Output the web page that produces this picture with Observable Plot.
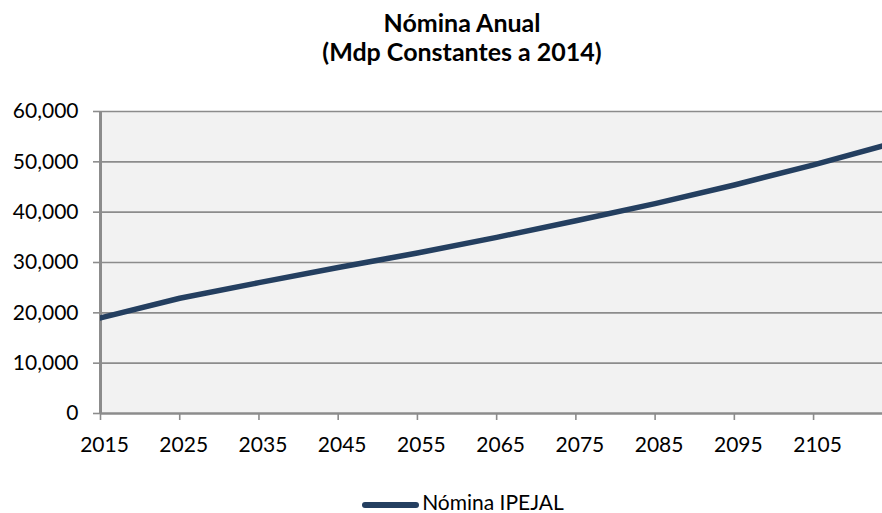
<!DOCTYPE html>
<html>
<head>
<meta charset="utf-8">
<script src="https://cdn.jsdelivr.net/npm/d3@7"></script>
<script src="https://cdn.jsdelivr.net/npm/@observablehq/plot@0.6"></script>
<style>
  body { margin: 0; background: #fff; font-family: Lato, "Open Sans", sans-serif; }
  #wrap { width: 882px; height: 513px; position: relative; overflow: hidden; }
  #title { height: 90px; text-align: center; font-weight: bold; font-size: 25px; line-height: 29px; padding-top: 8px; box-sizing: border-box; color: #000; padding-left: 42px; }
  #legend { position: absolute; left: 0; top: 490px; width: 882px; text-align: center; font-size: 21px; line-height: 24px; color: #000; padding-left: 44px; box-sizing: border-box; }
  #legend span.sw { display: inline-block; width: 57px; height: 6px; border-radius: 3px; background: #243f60; vertical-align: middle; margin-right: 3px; }
</style>
</head>
<body>
<div id="wrap">
  <div id="title">Nómina Anual<br>(Mdp Constantes a 2014)</div>
  <div id="chart"></div>
  <div id="legend"><span class="sw"></span>Nómina IPEJAL</div>
</div>
<script>
// valores (cada 10 años)
const years = [2015, 2025, 2035, 2045, 2055, 2065, 2075, 2085, 2095, 2105, 2115]
const nomina = [19000, 22900, 26000, 29000, 31900, 35000, 38300, 41700, 45400, 49400, 53700]
const xTicks = [2015, 2025, 2035, 2045, 2055, 2065, 2075, 2085, 2095, 2105]
const yTicks = [0, 10000, 20000, 30000, 40000, 50000, 60000]

const data = years.map((y, i) => ({ anio: y, valor: nomina[i] }))

let chart = Plot.plot({
  width: 882,
  height: 370,
  marginTop: 21,
  marginBottom: 47,
  marginLeft: 100,
  marginRight: 0,
  style: { fontFamily: "Lato, 'Open Sans', sans-serif", fontSize: "21px", color: "#000", background: "transparent", overflow: "visible" },
  x: { domain: [2015, 2113.7], label: null },
  y: { domain: [0, 60000], label: null },
  marks: [
    Plot.frame({ fill: "#f2f2f2", stroke: null }),
    Plot.ruleY(yTicks.slice(1), { stroke: "#8c8c8c", strokeWidth: 1.6 }),
    Plot.ruleY([0], { stroke: "#8c8c8c", strokeWidth: 2.5 }),
    Plot.ruleX([2015], { stroke: "#8c8c8c", strokeWidth: 3 }),
    Plot.axisY({ ticks: yTicks, tickFormat: d3.format(","), tickSize: 7, tickPadding: 15, stroke: "#8c8c8c", strokeWidth: 1.6 }),
    // marcas del eje x
    Plot.axisX({ ticks: xTicks, tickFormat: null, text: null, tickSize: 7, stroke: "#8c8c8c", strokeWidth: 1.6 }),
    // etiquetas del eje x (un poco corridas a la derecha como en Excel)
    Plot.axisX({ ticks: xTicks, tickFormat: d => String(d), tickSize: 0, tickPadding: 24, dx: 4 }),
    Plot.line(data, { x: "anio", y: "valor", stroke: "#243f60", strokeWidth: 5.5, clip: true })
  ]
})

d3.select('#chart').append(() => chart)
</script>
</body>
</html>
